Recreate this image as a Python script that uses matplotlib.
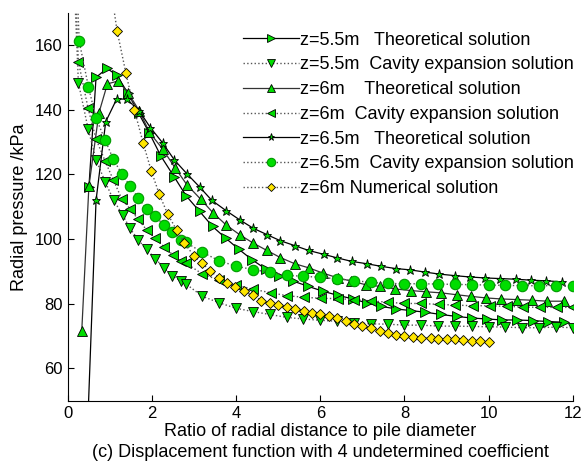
import matplotlib
matplotlib.use('Agg')
import matplotlib.pyplot as plt

plt.rcParams['font.family'] = ['Liberation Sans', 'DejaVu Sans']

# z=5.5m theoretical
x_t55 = [0.5, 0.67, 0.93, 1.16, 1.42, 1.68, 1.94, 2.21, 2.53, 2.81, 3.13, 3.44, 3.75, 4.06, 4.38, 4.7, 5.03, 5.36,
         5.71, 6.06, 6.42, 6.78, 7.12, 7.45, 7.81, 8.15, 8.5, 8.86, 9.24, 9.6, 9.97, 10.33, 10.68, 11.06, 11.42, 11.8]
y_t55 = [116, 150, 152.8, 150.7, 145.3, 139, 132.7, 125.7, 119.2, 113.4, 108.6, 103.9, 100.3, 96.9, 93.6, 90.8, 88.7, 87,
         85.4, 83.9, 82.6, 81.5, 80.2, 79.2, 78.4, 77.9, 77.4, 76.7, 76.1, 75.6, 75.3, 75.0, 75.0, 74.8, 74.5, 74.3]

# z=5.5m cavity expansion
x_c55 = [0.07, 0.25, 0.48, 0.67, 0.89, 1.09, 1.3, 1.48, 1.67, 1.87, 2.08, 2.28, 2.48, 2.69, 2.8, 3.2, 3.6, 4.0, 4.4,
         4.8, 5.2, 5.6, 6.0, 6.4, 6.8, 7.2, 7.6, 8.0, 8.4, 8.8, 9.2, 9.6, 10.0, 10.4, 10.8, 11.2, 11.6, 12.0]
y_c55 = [205, 148.4, 134.2, 124.5, 117.6, 112, 107.5, 103.3, 99.8, 96.8, 94, 91.1, 88.7, 87, 86.2, 82.3, 80.3, 78.6, 77.6,
         76.7, 75.8, 75.3, 74.9, 74.6, 74.2, 73.8, 73.7, 73.4, 73.4, 73.1, 73.1, 73.0, 72.9, 72.8, 72.6, 72.6, 72.8, 72.6]

# z=6m theoretical
x_t6 = [0.33, 0.5, 0.74, 0.94, 1.2, 1.44, 1.7, 1.94, 2.25, 2.55, 2.83, 3.16, 3.46, 3.76, 4.08, 4.4, 4.73, 5.05, 5.39,
        5.73, 6.06, 6.42, 6.74, 7.08, 7.41, 7.77, 8.15, 8.52, 8.86, 9.24, 9.58, 9.95, 10.3, 10.67, 11.04, 11.4, 11.8]
y_t6 = [71.5, 116.3, 139.1, 148, 148.9, 145.1, 139.6, 133, 127.9, 122, 116.8, 112.3, 108, 104.4, 101.4, 98.8, 96.5, 94.3,
        92.4, 91.1, 89.5, 88, 87, 85.9, 85.4, 84.6, 84.1, 83.7, 83.4, 82.8, 82.3, 81.8, 81.5, 81.3, 81.1, 80.8, 80.8]

# z=6m cavity expansion
x_c6 = [0.07, 0.25, 0.48, 0.67, 0.89, 1.08, 1.28, 1.48, 1.67, 1.87, 2.08, 2.28, 2.49, 2.69, 2.8, 3.2, 3.6, 4.0, 4.4,
        4.83, 5.21, 5.62, 6.02, 6.42, 6.8, 7.2, 7.6, 8.0, 8.4, 8.82, 9.21, 9.62, 10.03, 10.43, 10.82, 11.22, 11.62, 12.0]
y_c6 = [215, 154.9, 140.5, 130.9, 124, 118.3, 112.5, 109.3, 106.1, 102.9, 100.2, 97.7, 95.2, 93.1, 92.6, 89.2, 87.3,
        85.8, 84.5, 83.4, 82.5, 82.0, 81.7, 81.6, 81.3, 80.9, 80.5, 80.1, 80.1, 79.8, 79.6, 79.4, 79.4, 79.2, 79.0,
        78.9, 78.9, 78.9]

# z=6.5m theoretical
x_t65 = [0.45, 0.67, 0.9, 1.16, 1.4, 1.7, 1.96, 2.25, 2.53, 2.83, 3.14, 3.42, 3.76, 4.08, 4.4, 4.73, 5.05, 5.39, 5.72,
         6.08, 6.4, 6.75, 7.1, 7.44, 7.79, 8.13, 8.49, 8.82, 9.2, 9.55, 9.91, 10.27, 10.65, 11.0, 11.37, 11.74]
y_t65 = [35, 112, 136.3, 143.3, 143.3, 139.6, 134.5, 129.8, 124.5, 120.2, 116, 112, 108.8, 106, 103.4, 101.4, 99.5, 98,
         96.5, 95.3, 94.2, 93.1, 92.4, 91.6, 90.9, 90.5, 89.8, 89.2, 88.7, 88.3, 88.0, 87.8, 87.6, 87.3, 87.1, 86.8]

# z=6.5m cavity expansion
x_c65 = [0.07, 0.27, 0.49, 0.67, 0.89, 1.08, 1.28, 1.48, 1.67, 1.87, 2.08, 2.28, 2.48, 2.69, 2.8, 3.2, 3.6, 4.0, 4.4,
         4.8, 5.2, 5.6, 6.0, 6.4, 6.8, 7.2, 7.6, 8.0, 8.4, 8.8, 9.2, 9.6, 10.0, 10.4, 10.8, 11.2, 11.6, 12.0]
y_c65 = [225, 161.2, 147, 137.4, 130.5, 124.7, 120.2, 116.4, 112.8, 109.3, 107, 104.4, 102.2, 99.8, 99.0, 95.9, 93.3,
         91.6, 90.6, 89.7, 88.8, 88.5, 88.2, 87.7, 87.2, 86.6, 86.3, 86.2, 86.2, 86.1, 86.0, 85.9, 85.8, 85.7, 85.6,
         85.6, 85.6, 85.6]

# z=6m numerical
x_num = [0.97, 1.17, 1.38, 1.58, 1.79, 1.98, 2.17, 2.37, 2.59, 2.77, 2.99, 3.19, 3.38, 3.59, 3.79, 3.98, 4.18, 4.4,
         4.6, 4.8, 5.0, 5.2, 5.4, 5.61, 5.81, 6.0, 6.2, 6.4, 6.6, 6.8, 7.0, 7.21, 7.41, 7.61, 7.81, 8.0, 8.2, 8.4,
         8.62, 8.8, 9.01, 9.21, 9.4, 9.61, 9.8, 10.01]
y_num = [182, 164.4, 151.3, 140, 129.7, 121.2, 114, 107.8, 102.7, 98.8, 94.9, 92.6, 90.2, 88.0, 86.4, 85.2, 83.9, 82.6,
         81.0, 80.2, 79.6, 79.0, 78.4, 77.7, 77.0, 76.7, 76.1, 75.6, 74.7, 73.9, 73.1, 72.6, 71.6, 70.9, 70.5, 70.1,
         69.8, 69.5, 69.3, 69.2, 69.0, 69.0, 68.9, 68.6, 68.5, 68.1]

green = '#00dd00'
yellow = '#ffe600'

fig = plt.figure(figsize=(5.85, 4.71), dpi=100)
ax = fig.add_axes([0.116, 0.149, 0.863, 0.824])

ax.plot(x_t55, y_t55, '-', color='black', lw=0.9, marker='>', ms=6.5, mfc=green, mec='black', mew=0.6,
        label='z=5.5m   Theoretical solution')
ax.plot(x_c55, y_c55, ':', color='#555555', lw=1.0, marker='v', ms=6.5, mfc=green, mec='black', mew=0.6,
        label='z=5.5m  Cavity expansion solution')
ax.plot(x_t6, y_t6, '-', color='#333333', lw=0.9, marker='^', ms=6.5, mfc=green, mec='black', mew=0.6,
        label='z=6m    Theoretical solution')
ax.plot(x_c6, y_c6, ':', color='#555555', lw=1.0, marker='<', ms=6.5, mfc=green, mec='black', mew=0.6,
        label='z=6m  Cavity expansion solution')
ax.plot(x_t65, y_t65, '-', color='black', lw=0.9, marker='*', ms=6.5, mfc=green, mec='black', mew=0.6,
        label='z=6.5m   Theoretical solution')
ax.plot(x_c65, y_c65, ':', color='#555555', lw=1.0, marker='o', ms=7.5, mfc=green, mec='#009900', mew=0.8,
        label='z=6.5m  Cavity expansion solution')
ax.plot(x_num, y_num, ':', color='#555555', lw=1.0, marker='D', ms=5.2, mfc=yellow, mec='black', mew=0.6,
        label='z=6m Numerical solution')

ax.set_xlim(0, 12)
ax.set_ylim(50, 170)
ax.set_xticks([0, 2, 4, 6, 8, 10, 12])
ax.set_yticks([60, 80, 100, 120, 140, 160])
ax.tick_params(direction='in', labelsize=12, length=4)
ax.spines['top'].set_visible(False)
ax.spines['right'].set_visible(False)

ax.set_xlabel('Ratio of radial distance to pile diameter\n(c) Displacement function with 4 undetermined coefficient',
              fontsize=13, linespacing=1.25, labelpad=2)
ax.set_ylabel('Radial pressure /kPa', fontsize=13, labelpad=5)

ax.legend(loc='upper left', bbox_to_anchor=(0.332, 0.97), frameon=False, fontsize=13, handlelength=3.1,
          handletextpad=0.1, labelspacing=0.43, borderaxespad=0, markerscale=0.8)

plt.savefig('out.png', dpi=100)
